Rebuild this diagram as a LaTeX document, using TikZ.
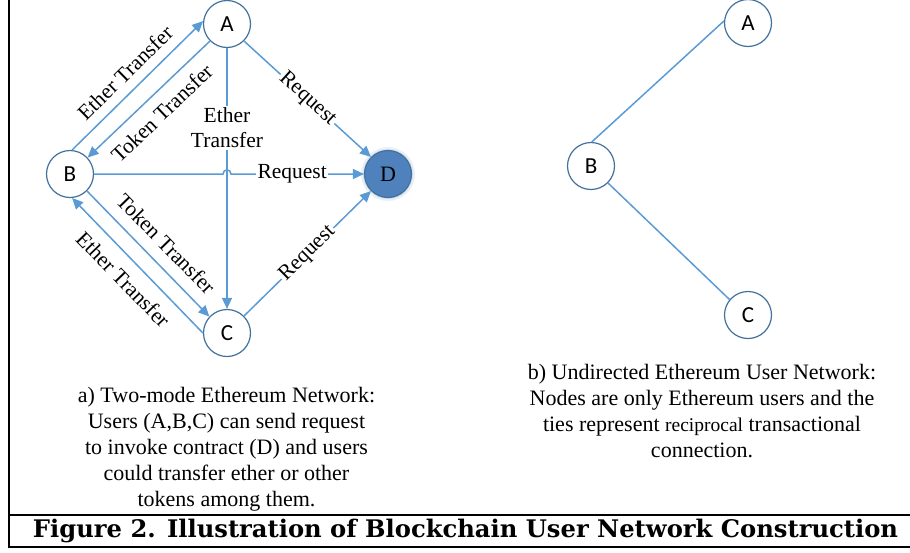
\documentclass[tikz,border=0pt]{standalone}
\usepackage{fontspec}
\setmainfont{Liberation Serif}
\newfontfamily\nodefont{Carlito}
\newfontfamily\titlefont{DejaVu Serif}
\usetikzlibrary{arrows.meta}
\definecolor{edgeblue}{HTML}{5B9BD5}
\definecolor{nodeline}{HTML}{41719C}
\definecolor{dfill}{HTML}{4F81BD}
\tikzset{
  user/.style={circle, draw=nodeline, fill=white, line width=1.2pt, minimum size=47pt, inner sep=0pt, font=\nodefont\fontsize{23}{23}\selectfont},
  contract/.style={circle, draw=nodeline, fill=dfill, line width=1.2pt, minimum size=47pt, inner sep=0pt, font=\fontsize{22}{22}\selectfont},
  arr/.style={draw=edgeblue, line width=1.5pt, -{Triangle[length=11pt,width=10pt]}},
  tie/.style={draw=edgeblue, line width=1.5pt},
  lbl/.style={font=\fontsize{21.5}{25}\selectfont, inner sep=1.5pt},
  onlbl/.style={lbl, fill=white},
  capt/.style={align=center, font=\fontsize{22}{26}\selectfont},
}
\begin{document}
\begin{tikzpicture}[x=1pt,y=-1pt]
\useasboundingbox (0,0) rectangle (910,552);
% frame
\draw[line width=1.6pt] (9,0) -- (9,547) -- (910,547);
\draw[line width=1.6pt] (9,515) -- (910,515);
% left network
\node[user] (A) at (227,24) {A};
\node[user] (B) at (70,174) {B};
\node[user] (C) at (227,333) {C};
\fill[dfill, opacity=0.12] (388,174) circle (27pt);
\fill[dfill, opacity=0.15] (388,174) circle (25pt);
\node[contract] (D) at (388,174) {D};
% edges
\draw[arr] (B.85) -- node[lbl, sloped, above=8pt]{Ether Transfer} (A.173);
\draw[arr, {Triangle[length=11pt,width=10pt]}-] (B.43) -- node[lbl, sloped, below=9pt]{Token Transfer} (A.225);
\draw[arr] (B.315) -- node[lbl, sloped, above=10pt, pos=0.53]{Token Transfer} (C.137);
\draw[arr, {Triangle[length=11pt,width=10pt]}-] (B.275) -- node[lbl, sloped, below=10pt]{Ether Transfer} (C.180);
\draw[arr] (A.south) -- node[onlbl, pos=0.305, align=center, inner sep=2pt]{Ether\\Transfer} (C.north);
\draw[arr] (B.east) -- (223,174) .. controls (223,168.5) and (231,168.5) .. (231,174) -- node[onlbl, pos=0.46]{Request} (D.west);
\draw[arr] (A.-45) -- node[onlbl, sloped]{Request} (D.135);
\draw[arr] (C.45) -- node[onlbl, sloped]{Request} (D.225);
% right network
\node[user] (A2) at (748,23) {A};
\node[user] (B2) at (591,166) {B};
\node[user] (C2) at (748,315) {C};
\draw[tie] (B2.88) -- (A2.175);
\draw[tie] (B2.-45) -- (C2.140);
% captions
\node[capt] (capa) at (226.5,449.5) {a) Two-mode Ethereum Network:\\Users (A,B,C) can send request\\to invoke contract (D) and users\\could transfer ether or other\\tokens among them.};
\node[capt] (capb) at (702,411.5) {b) Undirected Ethereum User Network:\\Nodes are only Ethereum users and the\\ties represent {\fontsize{19.5}{26}\selectfont reciprocal} transactional\\connection.};
\node (title) at (465.5,531) {\resizebox{865pt}{!}{\titlefont\bfseries\fontsize{26}{26}\selectfont Figure 2. Illustration of Blockchain User Network Construction}};
\end{tikzpicture}
\end{document}
